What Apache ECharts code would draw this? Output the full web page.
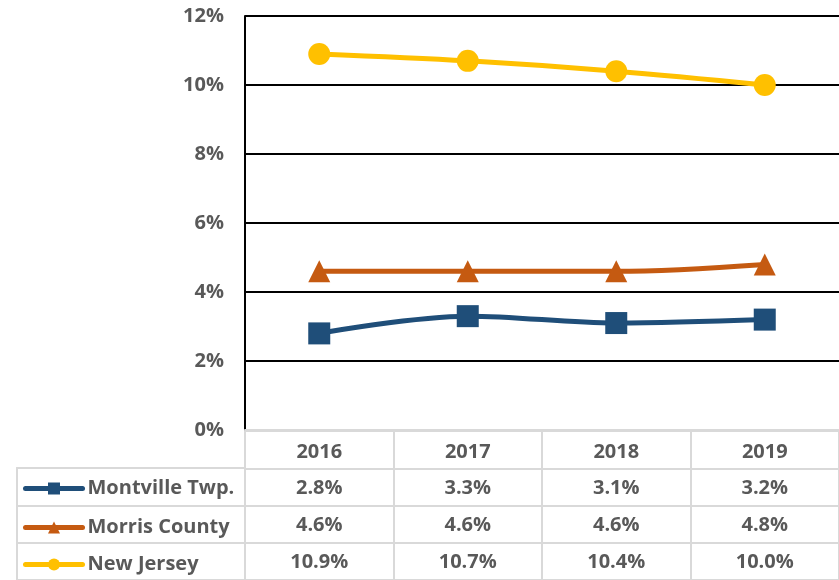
<!DOCTYPE html>
<html>
<head>
<meta charset="utf-8">
<script src="https://cdn.jsdelivr.net/npm/echarts@6/dist/echarts.min.js"></script>
<style>html,body{margin:0;padding:0;background:#fff;}#c{width:839px;height:580px;}</style>
</head>
<body>
<div id="c"></div>
<script>
var years = ['2016', '2017', '2018', '2019'];
var seriesNames = ['Montville Twp.', 'Morris County', 'New Jersey'];
var montville = [2.8, 3.3, 3.1, 3.2];
var morris = [4.6, 4.6, 4.6, 4.8];
var newJersey = [10.9, 10.7, 10.4, 10.0];
var yTicks = [0, 2, 4, 6, 8, 10, 12];

var colors = ['#1F4E79', '#C55A11', '#FFC000'];
var symbols = ['rect', 'triangle', 'circle'];
var allValues = [montville, morris, newJersey];
var FONT = '"Open Sans"';
var FS = 20;
var TXT = '#595959';
var GRAY = '#d9d9d9';

var chart = echarts.init(document.getElementById('c'), null, {renderer: 'canvas'});

var lineSeries = seriesNames.map(function (n, i) {
  return {
    name: n, type: 'line', xAxisIndex: 0, yAxisIndex: 0,
    data: allValues[i], smooth: 0.35,
    symbol: symbols[i], symbolSize: 22,
    lineStyle: {color: colors[i], width: 5},
    itemStyle: {color: colors[i]},
    z: 5 + (2 - i)
  };
});

var tableData = [];
allValues.forEach(function (arr, r) {
  arr.forEach(function (v, c) { tableData.push([c, r + 1, v]); });
});

var rowCenters = [486, 525, 562];
var legends = seriesNames.map(function (n, i) {
  return {
    data: [n], orient: 'vertical', left: 23, top: rowCenters[i] - 7.5, padding: 0,
    itemWidth: 57, itemHeight: 15, itemGap: 0,
    textStyle: {fontFamily: FONT, fontWeight: 'bold', fontSize: FS, color: TXT, lineHeight: 15},
    lineStyle: {width: 5, cap: 'round'},
    selectedMode: false
  };
});

var option = {
  animation: false,
  backgroundColor: '#fff',
  grid: [
    {left: 245, right: 0, top: 16, bottom: 150},
    {left: 245, right: 0, top: 431, bottom: 0},
    {left: 17, width: 228, top: 468, bottom: 0}
  ],
  legend: legends,
  xAxis: [
    {type: 'category', gridIndex: 0, data: years, boundaryGap: true,
     axisLine: {show: true, lineStyle: {color: GRAY, width: 2}},
     axisTick: {show: false},
     axisLabel: {fontFamily: FONT, fontWeight: 'bold', fontSize: FS, color: TXT, margin: 12},
     splitLine: {show: false}, z: 3},
    {type: 'category', gridIndex: 1, data: years, boundaryGap: true, position: 'top',
     axisLine: {show: false}, axisTick: {show: false}, axisLabel: {show: false},
     splitLine: {show: true, lineStyle: {color: GRAY, width: 2}}},
    {type: 'value', gridIndex: 2, min: 0, max: 1, position: 'top',
     axisLine: {show: true, lineStyle: {color: GRAY, width: 2}},
     axisTick: {show: false}, axisLabel: {show: false}, splitLine: {show: false}}
  ],
  yAxis: [
    {type: 'value', gridIndex: 0, min: 0, max: 12, interval: 2,
     axisLine: {show: true, lineStyle: {color: '#000', width: 2}},
     axisTick: {show: false},
     axisLabel: {fontFamily: FONT, fontWeight: 'bold', fontSize: FS, color: TXT, margin: 21,
                 formatter: function (v) { return yTicks.indexOf(v) >= 0 ? v + '%' : ''; }},
     splitLine: {show: true, lineStyle: {color: '#000', width: 2}}},
    {type: 'category', gridIndex: 1, data: [''].concat(seriesNames), inverse: true,
     axisLine: {show: true, lineStyle: {color: GRAY, width: 2}}, axisTick: {show: false}, axisLabel: {show: false},
     splitLine: {show: true, lineStyle: {color: GRAY, width: 2}}},
    {type: 'category', gridIndex: 2, data: seriesNames, inverse: true,
     axisLine: {show: true, lineStyle: {color: GRAY, width: 2}}, axisTick: {show: false}, axisLabel: {show: false},
     splitLine: {show: true, lineStyle: {color: GRAY, width: 2}}}
  ],
  series: lineSeries.concat([
    {type: 'custom', xAxisIndex: 1, yAxisIndex: 1, data: tableData, silent: true,
     renderItem: function (params, api) {
       var pt = api.coord([api.value(0), api.value(1)]);
       return {
         type: 'text', x: pt[0], y: pt[1] + 1,
         style: {text: api.value(2).toFixed(1) + '%', fill: TXT, align: 'center', verticalAlign: 'middle',
                 font: 'bold ' + FS + 'px ' + FONT}
       };
     }},
    {type: 'scatter', xAxisIndex: 2, yAxisIndex: 2, data: [], silent: true}
  ])
};
chart.setOption(option);
</script>
</body>
</html>
